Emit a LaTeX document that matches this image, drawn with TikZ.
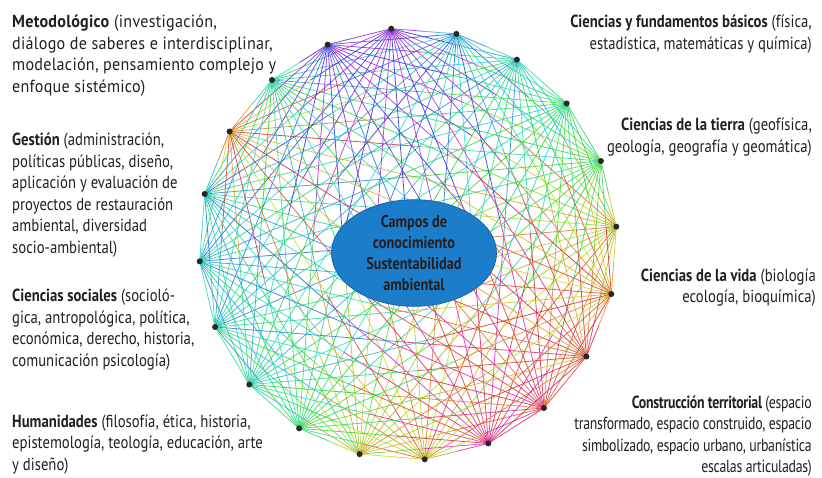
\documentclass[tikz,border=0pt]{standalone}
\usepackage{fontspec}
\setmainfont{PT Sans}[FakeStretch=0.84]
\newfontfamily\widefont{PT Sans}[FakeStretch=0.92,LetterSpace=1.5]
\newfontfamily\narrowfont{PT Sans}[FakeStretch=0.79,LetterSpace=-1.5]
\usetikzlibrary{calc,shapes.geometric}
\definecolor{txt}{HTML}{231F20}
\definecolor{ellfill}{HTML}{1C7DCA}
\definecolor{elldraw}{HTML}{1763A8}
\begin{document}
\begin{tikzpicture}[x=1pt,y=-1pt,
  lbl/.style={inner sep=0pt, text=txt, font=\fontsize{17.5}{21.5}\selectfont},
  lblL/.style={lbl, anchor=north west, align=left},
  lblR/.style={lbl, anchor=north east, align=right},
  dot/.style={circle, fill=black!85, inner sep=0pt, minimum size=6pt},
  chord/.style={line width=0.8pt, opacity=0.85},
  core/.style={ellipse, fill=ellfill, draw=elldraw, line width=0.8pt, minimum width=165pt, minimum height=90pt, inner sep=0pt, align=center, text=txt, font=\bfseries\fontsize{17}{21}\selectfont}
]
\useasboundingbox (0,0) rectangle (822,477);
\def\hues{{60,130,150,170,200,270,250,160,30,185,180,175,160,140,70,45,330,350,5,30}}
\foreach \k in {0,...,19}{
  \pgfmathsetmacro{\a}{4.6+18*\k}
  \coordinate (v\k) at ({408+209*cos(\a)},{244-216*sin(\a)});
}
\foreach \i in {0,...,18}{
  \pgfmathtruncatemacro{\s}{\i+1}
  \foreach \j in {\s,...,19}{
    \pgfmathtruncatemacro{\d}{min(\j-\i,20-\j+\i)}
    \pgfmathtruncatemacro{\ha}{mod(\hues[\i]+mod(\d*37,90)-45+360,360)}
    \pgfmathtruncatemacro{\hb}{mod(\hues[\j]+mod(\d*53,90)-45+360,360)}
    \definecolor{ca}{Hsb}{\ha,0.8,0.85}
    \definecolor{cb}{Hsb}{\hb,0.8,0.85}
    \coordinate (m) at ($(v\i)!0.5!(v\j)$);
    \draw[chord,ca] (v\i) -- (m);
    \draw[chord,cb] (m) -- (v\j);
  }
}
\foreach \k in {0,...,19}{
  \node[dot] (d\k) at (v\k) {};
}
\node[core] (core) at (414,253) {Campos de\\conocimiento\\Sustentabilidad\\ambiental};
\node[lblL, font=\widefont\fontsize{17.5}{21.5}\selectfont] (met) at (12,15) {\textbf{Metodológico} (investigación,\\diálogo de saberes e interdisciplinar,\\modelación, pensamiento complejo y\\enfoque sistémico)};
\node[lblL] (ges) at (12,133) {\textbf{Gestión} (administración,\\políticas públicas, diseño,\\aplicación y evaluación de\\proyectos de restauración\\ambiental, diversidad\\socio-ambiental)};
\node[lblL] (soc) at (12,289) {\textbf{Ciencias sociales} (socioló-\\gica, antropológica, política,\\económica, derecho, historia,\\comunicación psicología)};
\node[lblL] (hum) at (12,414.5) {\textbf{Humanidades} (filosofía, ética, historia,\\epistemología, teología, educación, arte\\y diseño)};
\node[lblR] (cfb) at (812,15) {\textbf{Ciencias y fundamentos básicos} (física,\\estadística, matemáticas y química)};
\node[lblR] (ct) at (812,118) {\textbf{Ciencias de la tierra} (geofísica,\\geología, geografía y geomática)};
\node[lblR] (cv) at (816,268.5) {\textbf{Ciencias de la vida} (biología\\ecología, bioquímica)};
\node[lblR, font=\narrowfont\fontsize{17.5}{21.5}\selectfont] (con) at (812,395.5) {\textbf{Construcción territorial} (espacio\\transformado, espacio construido, espacio\\simbolizado, espacio urbano, urbanística\\escalas articuladas)};
\end{tikzpicture}
\end{document}
